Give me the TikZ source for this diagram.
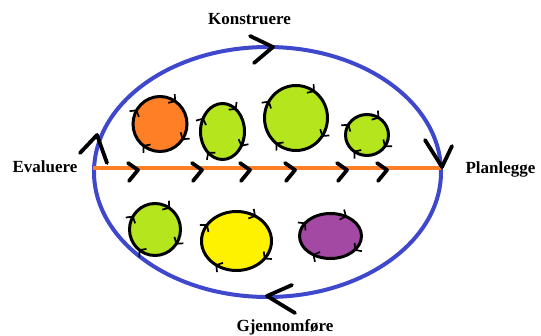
\documentclass[tikz,border=0pt]{standalone}
\usepackage{fontspec}
\setmainfont{Liberation Serif}
\usetikzlibrary{arrows.meta,decorations.markings}

\definecolor{paintblue}{HTML}{3F48CC}
\definecolor{paintorange}{HTML}{FF7F27}
\definecolor{paintlime}{HTML}{B5E61D}
\definecolor{paintyellow}{HTML}{FFF200}
\definecolor{paintpurple}{HTML}{A349A4}

\tikzset{
  ringtick/.tip={Straight Barb[length=4.5pt,width=11pt,line width=1.7pt,color=black]},
  blob/.style={draw=black, line width=3pt,
    postaction={decorate},
    decoration={markings,
      mark=at position 0.15 with {\arrowreversed{ringtick}},
      mark=at position 0.41 with {\arrowreversed{ringtick}},
      mark=at position 0.64 with {\arrowreversed{ringtick}},
      mark=at position 0.90 with {\arrowreversed{ringtick}}}},
  cycleline/.style={draw=paintblue, line width=4pt},
  phaseline/.style={draw=paintorange, line width=4pt},
  bigchev/.style={draw=black, line width=3.8pt, line cap=round, line join=round},
  chevline/.style={draw=black, line width=3.8pt, line cap=round, line join=round},
  chev/.pic={\path[chevline] (-10,-7) -- (0,0) -- (-9,11);},
  phase/.style={font=\bfseries\fontsize{17}{20}\selectfont, anchor=base, inner sep=0pt},
}

\begin{document}
\begin{tikzpicture}[x=1pt,y=-1pt]
\useasboundingbox (0,0) rectangle (541,336);

% outer cycle
\draw[cycleline] (267.5,172) ellipse [x radius=173.5pt, y radius=125pt];

% phase line across the cycle
\coordinate (lineL) at (93,168);
\coordinate (lineR) at (441,168);
\draw[phaseline] (lineL) -- (lineR);

% chevrons along the phase line
\foreach \x in {138,202,250,295,347,387}
  \pic at (\x,170) {chev};

% direction marks on the outer cycle
\draw[bigchev] (250,36) -- (273,47) -- (254,63);
\draw[bigchev] (425,140) -- (442,167) -- (452,146);
\draw[bigchev] (292,285) -- (267,296) -- (295,313);
\draw[bigchev] (80,153) -- (97,135) -- (107,163);

% activity blobs, upper half
\draw[blob, fill=paintorange] (160,124) ellipse [x radius=27pt, y radius=27.5pt];
\draw[blob, fill=paintlime] (222.5,131.5) ellipse [x radius=22pt, y radius=28pt];
\draw[blob, fill=paintlime] (296,118) ellipse [x radius=31.5pt, y radius=32.5pt];
\draw[blob, fill=paintlime] (367,135) ellipse [x radius=21.5pt, y radius=20.5pt];

% activity blobs, lower half
\draw[blob, fill=paintlime] (155,229.5) ellipse [x radius=25.5pt, y radius=26pt];
\draw[blob, fill=paintyellow] (236.5,241) ellipse [x radius=35pt, y radius=29.5pt];
\draw[blob, fill=paintpurple] (330.5,236) ellipse [x radius=31pt, y radius=22.5pt];

% phase labels
\node[phase] (konstruere) at (249.5,25) {Konstruere};
\node[phase] (evaluere) at (45,173) {Evaluere};
\node[phase] (planlegge) at (500.5,174) {Planlegge};
\node[phase] (gjennomfore) at (285,331.5) {Gjennomføre};
\end{tikzpicture}
\end{document}
